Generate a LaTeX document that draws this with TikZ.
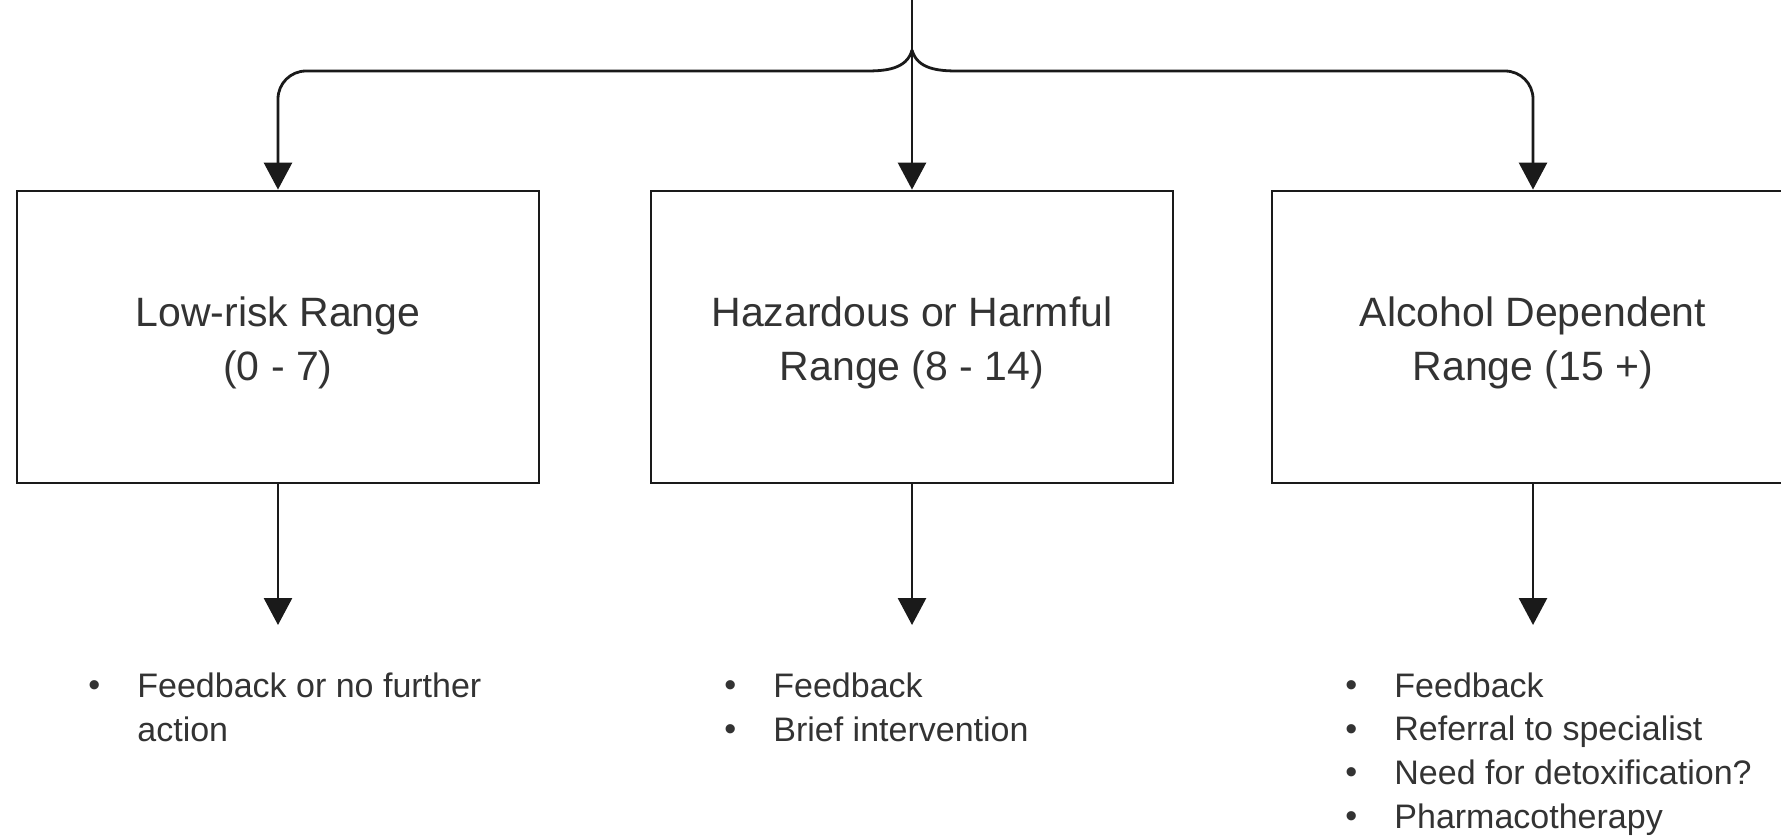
\documentclass[tikz,border=0pt]{standalone}
\usepackage{fontspec}
\setmainfont{Liberation Sans}
\usetikzlibrary{arrows.meta}
\definecolor{ink}{HTML}{1A1A1A}
\definecolor{txt}{HTML}{333333}
\newcommand\lbul{\makebox[25.5pt][l]{\hspace*{1pt}\raisebox{0.3pt}{•}}}
\begin{document}
\begin{tikzpicture}[x=0.5pt,y=0.5pt,
  conn/.style={draw=ink, line width=1.4pt, -{Triangle[width=14pt,length=13.5pt]}},
  rangebox/.style={draw=ink, line width=1.4pt, minimum width=261pt, minimum height=146pt, inner sep=0pt},
  boxtext/.style={align=center, text=txt, inner sep=0pt, font=\fontsize{20.5pt}{27pt}\selectfont},
  bullets/.style={anchor=base west, inner sep=0pt, align=left, text=txt, font=\fontsize{17pt}{21.8pt}\selectfont}]
\path[use as bounding box, clip] (0,0) rectangle (1781,-836);

\node[rangebox] (b1) at (278,-337) {};
\node[rangebox] (b2) at (912,-337) {};
\node[rangebox] (b3) at (1533,-337) {};
\node[boxtext] (t1) at (278,-343) {Low-risk Range\\(0 - 7)};
\node[boxtext] (t2) at (912,-343) {Hazardous or Harmful\\Range (8 - 14)};
\node[boxtext] (t3) at (1533,-343) {Alcohol Dependent\\Range (15 +)};

\coordinate (src) at (912,0);
\coordinate (tip) at (912,-50);
\coordinate (jl) at (866,-71);
\coordinate (jr) at (958,-71);
\coordinate (o1) at (278,-625);
\coordinate (o2) at (912,-625);
\coordinate (o3) at (1533,-625);

\draw[conn] (src) -- (b2.north);
\draw[conn] (tip) to[out=255,in=0] (jl) [rounded corners=14pt] -| (b1.north);
\draw[conn] (tip) to[out=285,in=180] (jr) [rounded corners=14pt] -| (b3.north);

\draw[conn] (b1.south) -- (o1);
\draw[conn] (b2.south) -- (o2);
\draw[conn] (b3.south) -- (o3);

\node[bullets] (l1) at (86,-741) {\lbul Feedback or no further\\\hspace*{25.5pt}action};
\node[bullets] (l2) at (722,-741) {\lbul Feedback\\\lbul Brief intervention};
\node[bullets] (l3) at (1343,-828) {\lbul Feedback\\\lbul Referral to specialist\\\lbul Need for detoxification?\\\lbul Pharmacotherapy};
\end{tikzpicture}
\end{document}
